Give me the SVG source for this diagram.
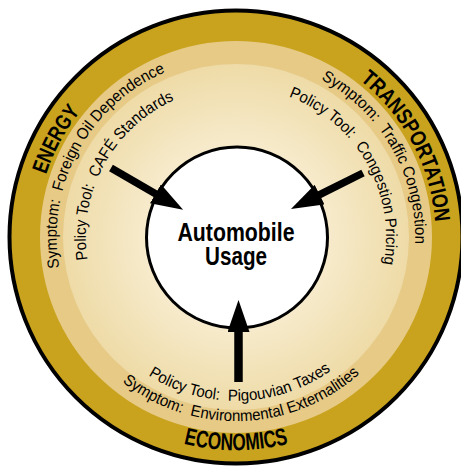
<svg xmlns="http://www.w3.org/2000/svg" xmlns:xlink="http://www.w3.org/1999/xlink" width="461" height="466" viewBox="0 0 461 466">
  <style>
    .lbl { font-family: "Liberation Sans", Arial, sans-serif; fill: #000; }
    .sector { font-size: 22px; font-weight: bold; }
    .line { font-size: 16px; }
    .hub { font-size: 26px; font-weight: bold; text-anchor: middle; }
    .shaft { stroke: #000; fill: none; stroke-linecap: butt; }
  </style>
  <defs>
    <radialGradient id="cream" cx="236" cy="237" r="173" gradientUnits="userSpaceOnUse">
      <stop offset="0" stop-color="#FBF4DE"/>
      <stop offset="0.55" stop-color="#F6EACA"/>
      <stop offset="1" stop-color="#EEDBA7"/>
    </radialGradient>
    <marker id="head" markerUnits="userSpaceOnUse" viewBox="0 -11 32 22" markerWidth="32" markerHeight="22" refX="1" refY="0" orient="auto">
      <path d="M0,-11 L32,0 L0,11 z" fill="#000"/>
    </marker>
    <!-- clockwise arcs (upper labels), centred on each label's mid-angle -->
    <path id="arc-energy" d="M125.6,403.8 A200,200 0 0 1 315.7,53.6"/>
    <path id="arc-energy-sym" d="M137.2,386.3 A179,179 0 0 1 307.4,72.8"/>
    <path id="arc-energy-pol" d="M153.2,362.1 A150,150 0 0 1 295.8,99.4"/>
    <path id="arc-trans" d="M157.9,52.9 A200,200 0 0 1 344.9,404.7"/>
    <path id="arc-trans-sym" d="M161.1,74.4 A179,179 0 0 1 338.0,384.1"/>
    <path id="arc-trans-pol" d="M173.8,100.5 A150,150 0 0 1 321.0,360.6"/>
    <!-- counter-clockwise arcs (bottom labels) -->
    <path id="arc-econ" d="M23.8,255.6 A213,213 0 0 0 448.2,255.6"/>
    <path id="arc-econ-sym" d="M52.9,259.5 A184.5,184.5 0 0 0 420.2,246.7"/>
    <path id="arc-econ-pol" d="M73.1,255.6 A164,164 0 0 0 399.7,247.0"/>
  </defs>

  <!-- concentric rings -->
  <g id="rings">
    <circle cx="236" cy="237" r="226.5" fill="#C9A31E" stroke="#000" stroke-width="4"/>
    <circle cx="236" cy="237" r="196" fill="#E6CA86"/>
    <circle cx="236" cy="237" r="173" fill="url(#cream)"/>
  </g>

  <g id="energy" class="lbl">
    <text class="sector" text-anchor="middle"><textPath xlink:href="#arc-energy" startOffset="50%" textLength="72" lengthAdjust="spacingAndGlyphs">ENERGY</textPath></text>
    <text class="line" text-anchor="middle"><textPath xlink:href="#arc-energy-sym" startOffset="50%" textLength="240" lengthAdjust="spacingAndGlyphs">Symptom:&#160; Foreign Oil Dependence</textPath></text>
    <text class="line" text-anchor="middle"><textPath xlink:href="#arc-energy-pol" startOffset="50%" textLength="195" lengthAdjust="spacingAndGlyphs">Policy Tool:&#160; CAFÉ Standards</textPath></text>
  </g>

  <g id="transportation" class="lbl">
    <text class="sector" text-anchor="middle"><textPath xlink:href="#arc-trans" startOffset="50%" textLength="165" lengthAdjust="spacingAndGlyphs">TRANSPORTATION</textPath></text>
    <text class="line" text-anchor="middle"><textPath xlink:href="#arc-trans-sym" startOffset="50%" textLength="200" lengthAdjust="spacingAndGlyphs">Symptom:&#160; Traffic Congestion</textPath></text>
    <text class="line" text-anchor="middle"><textPath xlink:href="#arc-trans-pol" startOffset="50%" textLength="209" lengthAdjust="spacingAndGlyphs">Policy Tool:&#160; Congestion Pricing</textPath></text>
  </g>

  <g id="economics" class="lbl">
    <text class="sector" text-anchor="middle" style="font-size:24px"><textPath xlink:href="#arc-econ" startOffset="50%" textLength="106" lengthAdjust="spacingAndGlyphs">ECONOMICS</textPath></text>
    <text class="line" text-anchor="middle"><textPath xlink:href="#arc-econ-sym" startOffset="50%" textLength="258" lengthAdjust="spacingAndGlyphs">Symptom:&#160; Environmental Externalities</textPath></text>
    <text class="line" text-anchor="middle"><textPath xlink:href="#arc-econ-pol" startOffset="50%" textLength="194" lengthAdjust="spacingAndGlyphs">Policy Tool:&#160; Pigouvian Taxes</textPath></text>
  </g>

  <!-- central node -->
  <g id="automobile-usage">
    <circle cx="237" cy="237.5" r="90.5" fill="#FFFFFF" stroke="#000" stroke-width="3"/>
    <text class="lbl hub" x="236" y="241" textLength="117" lengthAdjust="spacingAndGlyphs">Automobile</text>
    <text class="lbl hub" x="236" y="265" textLength="62" lengthAdjust="spacingAndGlyphs">Usage</text>
  </g>

  <!-- arrows into the central node -->
  <g id="connectors">
    <line class="shaft" x1="111" y1="168" x2="156.3" y2="194.3" stroke-width="7.5" marker-end="url(#head)"/>
    <line class="shaft" x1="363" y1="173" x2="318.7" y2="195.1" stroke-width="7.5" marker-end="url(#head)"/>
    <line class="shaft" x1="238.5" y1="382" x2="238.5" y2="331" stroke-width="8.5" marker-end="url(#head)"/>
  </g>
</svg>
